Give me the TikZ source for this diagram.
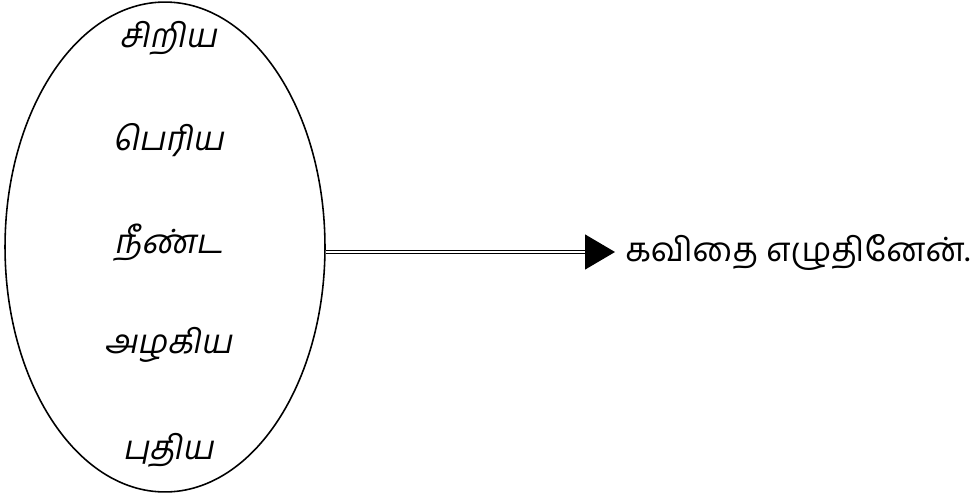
\documentclass[tikz,border=0pt]{standalone}
\usepackage{fontspec}
\newfontfamily\tamilfont[Script=Tamil]{Hind Madurai}
\newfontfamily\tamilslant[Script=Tamil,FakeSlant=0.2]{Hind Madurai}
\usetikzlibrary{shapes.geometric,arrows.meta}

\begin{document}
\begin{tikzpicture}[x=0.02cm,y=-0.02cm,
  word/.style={font=\tamilslant\fontsize{19}{22}\selectfont,inner sep=0pt}]
  \useasboundingbox (0,0) rectangle (980,497);
  \node[ellipse,draw,line width=0.9pt,inner sep=0pt,
    minimum width=6.4cm,minimum height=9.8cm] (ring) at (165,247) {};
  \node[word] (small) at (168,38) {சிறிய};
  \node[word] (big) at (168,140) {பெரிய};
  \node[word] (long) at (168,243) {நீண்ட};
  \node[word] (pretty) at (168,345) {அழகிய};
  \node[word] (new) at (168,450) {புதிய};
  \node[anchor=west,inner ysep=0pt,inner xsep=0.2cm,
    font=\tamilfont\fontsize{19}{22}\selectfont] (poem) at (615,252) {கவிதை எழுதினேன்.};
  \draw[double,double distance=1.1pt,line width=0.7pt,
    -{Triangle[length=0.6cm,width=0.7cm]}] (poem.west -| ring.east) -- (poem.west);
\end{tikzpicture}
\end{document}
